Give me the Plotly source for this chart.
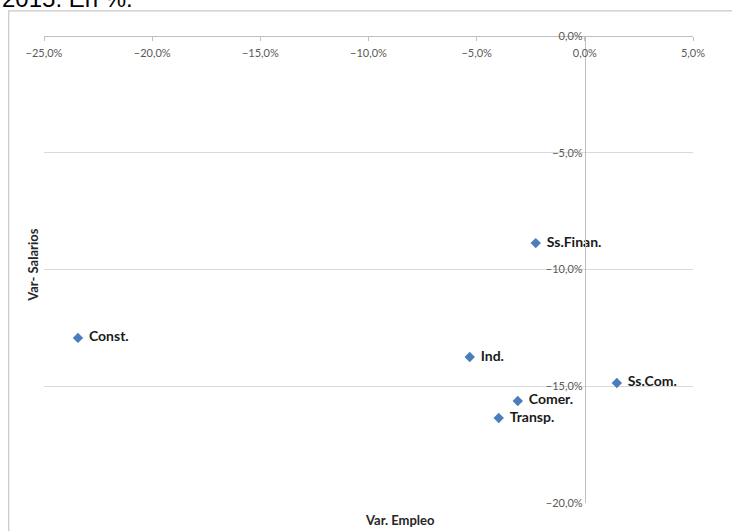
import plotly.graph_objects as go

# Datos: variación del empleo y de los salarios por sector (%)
sectores = ["Ss.Finan.", "Const.", "Ind.", "Ss.Com.", "Comer.", "Transp."]
var_empleo = [-2.27, -23.43, -5.32, 1.48, -3.10, -3.98]
var_salarios = [-8.87, -12.93, -13.75, -14.86, -15.63, -16.36]

gris_txt = "#595959"
gris_lin = "#d9d9d9"

fig = go.Figure()

# Puntos
fig.add_trace(go.Scatter(x=var_empleo, y=var_salarios, mode="markers",
                         marker=dict(symbol="diamond", size=8, color="#4a7ebb"),
                         cliponaxis=False, hoverinfo="skip"))

# Etiquetas (marcador invisible más grande para separar el texto)
fig.add_trace(go.Scatter(x=var_empleo, y=var_salarios, mode="markers+text",
                         text=sectores, textposition="middle right",
                         textfont=dict(family="Lato", size=14, color="#1a1a1a", weight="bold"),
                         marker=dict(size=16, color="rgba(0,0,0,0)"),
                         cliponaxis=False, hoverinfo="skip"))

# Layout estilo Excel
fig.update_layout(width=732, height=531,
                  margin=dict(l=44, r=39, t=36, b=28),
                  paper_bgcolor="white", plot_bgcolor="white",
                  separators=",.",
                  showlegend=False,
                  font=dict(family="Lato", size=11, color=gris_txt))

# Eje X arriba (en y = 0) con etiquetas por debajo de la línea
fig.update_xaxes(range=[-25, 5], dtick=5, tickformat=".1f", ticksuffix="%",
                 anchor="free", position=1, side="bottom",
                 ticks="outside", ticklen=4, tickcolor="#bfbfbf",
                 ticklabelstandoff=3,
                 showline=True, linecolor="#bfbfbf",
                 showgrid=False, zeroline=False,
                 tickfont=dict(family="Lato", size=11, color=gris_txt))

# Eje Y en x = 0
fig.update_yaxes(range=[-20, 0], dtick=5, tickformat=".1f", ticksuffix="%",
                 anchor="free", position=25 / 30,
                 showline=True, linecolor="#bfbfbf", ticks="",
                 showgrid=True, gridcolor=gris_lin, zeroline=False,
                 tickfont=dict(family="Lato", size=11, color=gris_txt))

# Títulos de ejes
fig.add_annotation(text="<b>Var. Empleo</b>", xref="paper", yref="paper",
                   x=0.5485, y=-0.0364, xanchor="center", yanchor="middle",
                   showarrow=False,
                   font=dict(family="Lato", size=13, color="#262626"))
fig.add_annotation(text="<b>Var- Salarios</b>", xref="paper", yref="paper",
                   x=-0.017, y=0.51, xanchor="center", yanchor="middle",
                   textangle=-90, showarrow=False,
                   font=dict(family="Lato", size=13, color="#262626"))

# Título recortado arriba
fig.add_annotation(text="2015. En %.", xref="paper", yref="paper",
                   x=-0.068, y=1.047, xanchor="left", yanchor="bottom",
                   showarrow=False,
                   font=dict(family="Liberation Sans", size=24, color="#000000"))

# Borde del área del gráfico
fig.add_shape(type="path", xref="paper", yref="paper",
              path="M -0.0544 -0.2 L -0.0544 1.054 L 1.2 1.054",
              line=dict(color="#c8c8c8", width=1.2))

fig.write_html("out.html", config={"displayModeBar": False},
               post_script="document.body.style.margin='0';")
